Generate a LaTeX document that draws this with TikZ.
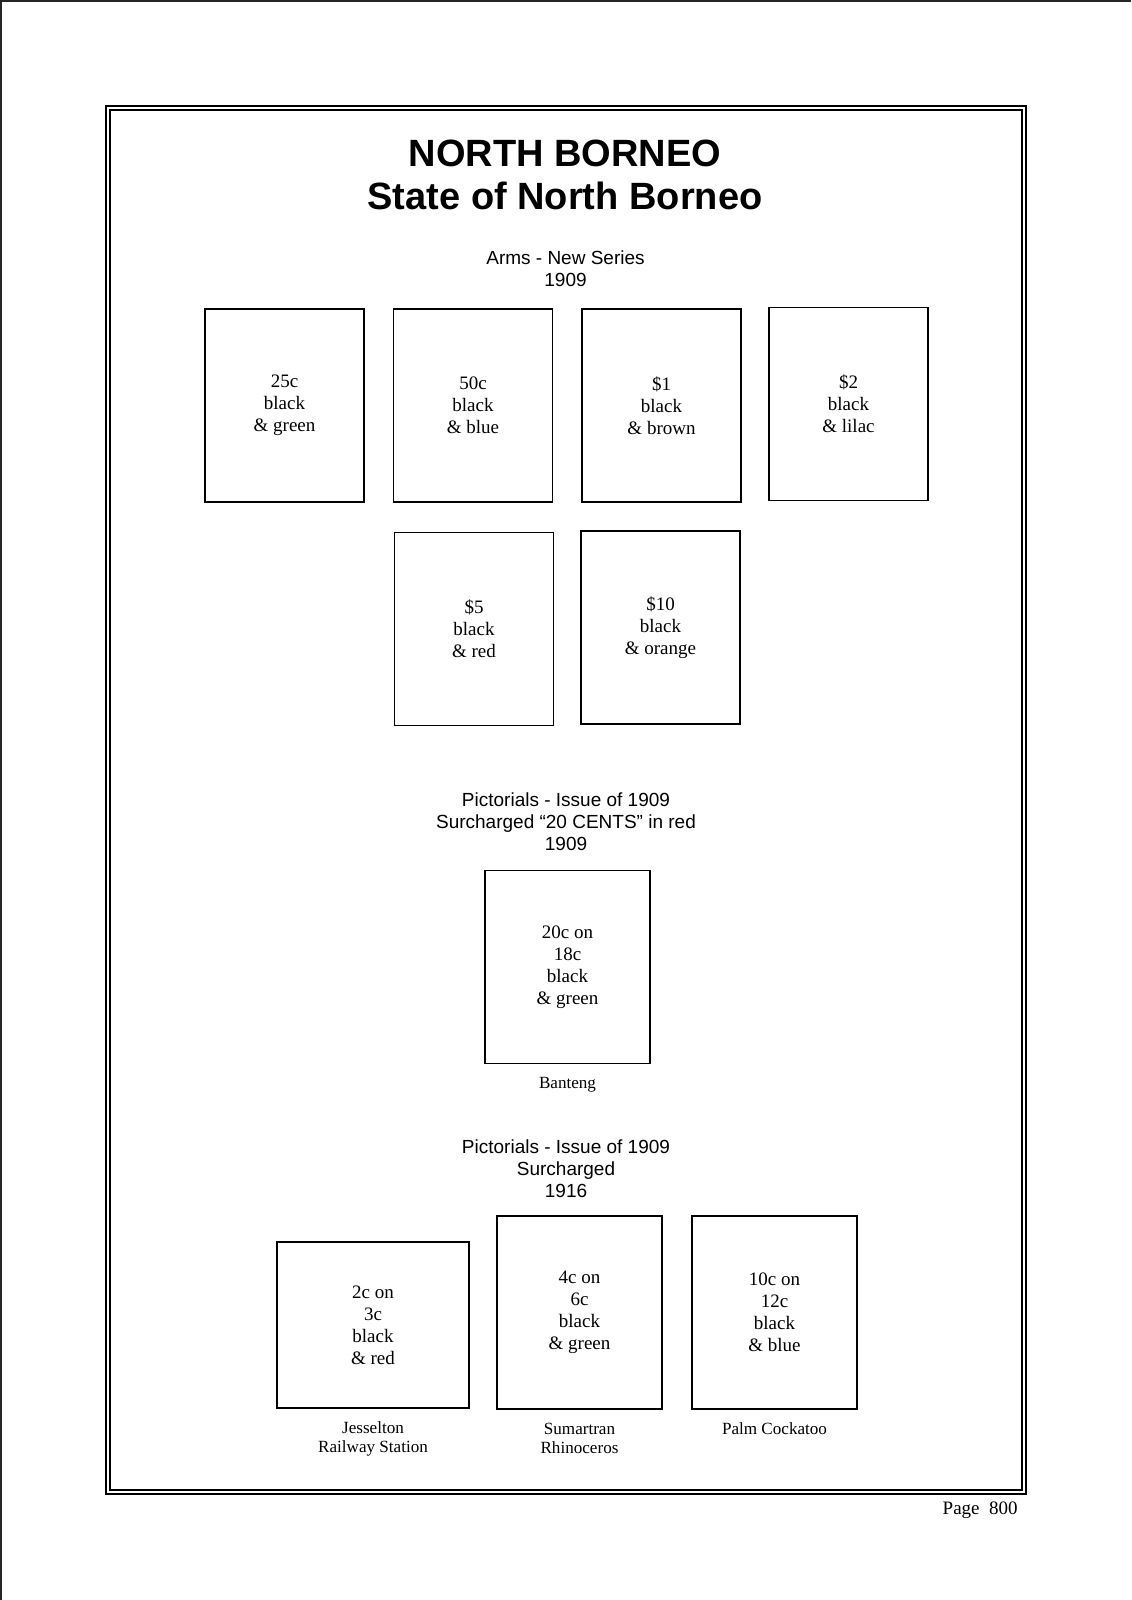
\documentclass[tikz,border=0pt]{standalone}
\usepackage{fontspec}
\setmainfont{Liberation Serif}
\newfontfamily\headfont{Liberation Sans}
\usetikzlibrary{positioning}
\tikzstyle{stamp} = [draw,line width=1pt,rectangle,inner sep=0,minimum width=159*\pix,minimum height=193*\pix,align=center,font=\fontsize{10}{11.6}\selectfont]
\tikzstyle{wide} = [stamp,minimum width=165*\pix]
\tikzstyle{flat} = [stamp,minimum width=192*\pix,minimum height=166*\pix]
\tikzstyle{banner} = [align=center,inner sep=0,font=\headfont\bfseries\fontsize{20}{22.5}\selectfont]
\tikzstyle{heading} = [align=center,inner sep=0,font=\headfont\fontsize{10}{11.6}\selectfont]
\tikzstyle{caption} = [align=center,inner sep=0,font=\fontsize{9}{10.2}\selectfont]
\tikzstyle{frame} = [draw,line width=1.3pt]
\def \pix {0.5263pt}

\begin{document}
\begin{tikzpicture}[x=\pix,y=-\pix]
      \useasboundingbox (0,0) rectangle (1131,1600);
      % page edge and album frame
      \draw[line width=1pt,black!85] (1,1600) -- (1,1) -- (1131,1);
      \draw[frame] (106,106) rectangle (1026,1494);
      \draw[line width=0.8pt] (110,110) rectangle (1022,1490);
      \node[banner] (name) at (565,175) {NORTH BORNEO\\State of North Borneo};
      % arms, new series
      \node[heading] (arms) at (565.5,269) {Arms - New Series\\1909};
      \node[stamp] (s1) at (284.5,405.5) {25c\\black\\\& green};
      \node[stamp] (s2) at (473,405.5) {50c\\black\\\& blue};
      \node[stamp] (s3) at (661.5,405.5) {\$1\\black\\\& brown};
      \node[stamp] (s4) at (848.5,404) {\$2\\black\\\& lilac};
      \node[stamp] (s5) at (474,629) {\$5\\black\\\& red};
      \node[stamp] (s6) at (660.5,627.5) {\$10\\black\\\& orange};
      % pictorials, 20 cents
      \node[heading] (pict) at (566,822) {Pictorials - Issue of 1909\\Surcharged “20 CENTS” in red\\1909};
      \node[wide] (s7) at (567.5,967) {20c on\\18c\\black\\\& green};
      \node[caption,below=6.5pt of s7] (banteng) {Banteng};
      % pictorials, 1916
      \node[heading] (surch) at (566,1169) {Pictorials - Issue of 1909\\Surcharged\\1916};
      \node[flat] (s8) at (373,1325) {2c on\\3c\\black\\\& red};
      \node[wide] (s9) at (579.5,1312.5) {4c on\\6c\\black\\\& green};
      \node[wide] (s10) at (774.5,1312.5) {10c on\\12c\\black\\\& blue};
      \node[caption,below=6.5pt of s8] (rail) {Jesselton\\Railway Station};
      \node[caption,below=6.5pt of s9] (rhino) {Sumartran\\Rhinoceros};
      \node[caption,below=6.5pt of s10] (bird) {Palm Cockatoo};
      \node[anchor=east,inner sep=0,font=\fontsize{10}{12}\selectfont] (page) at (1018,1510) {Page\ \ 800};
\end{tikzpicture}
\end{document}
